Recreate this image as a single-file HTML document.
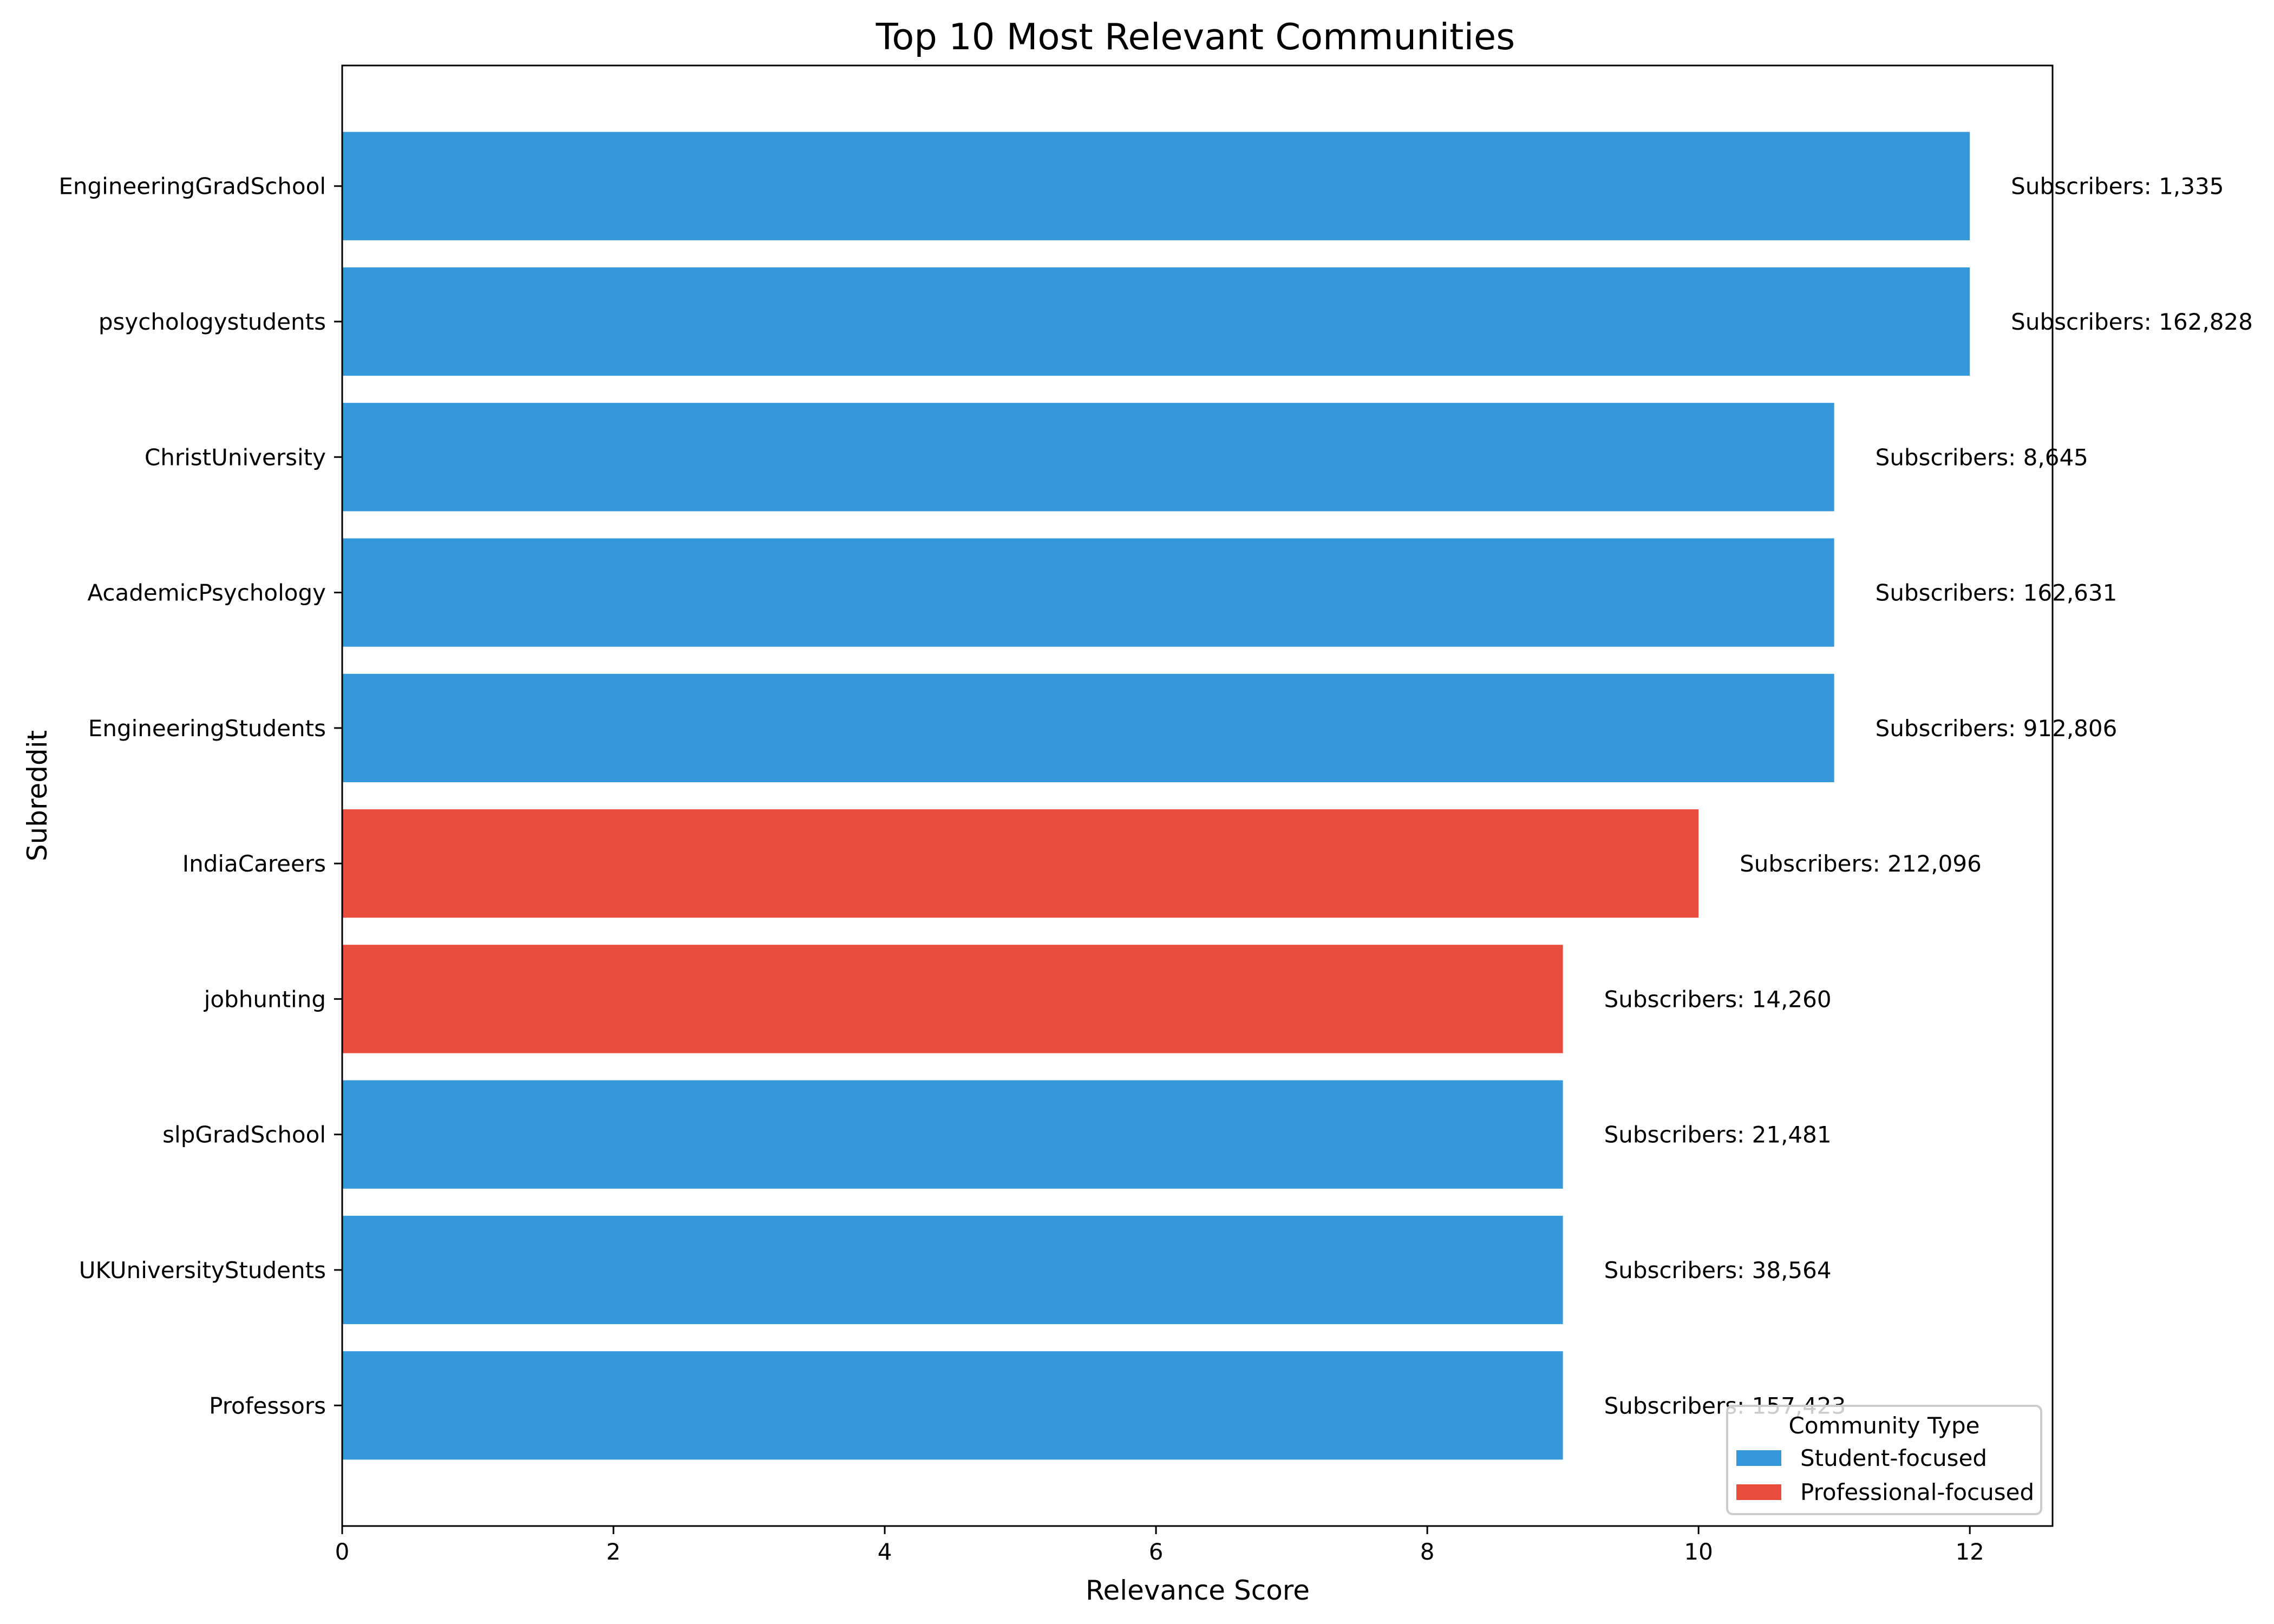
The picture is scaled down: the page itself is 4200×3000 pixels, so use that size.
<!DOCTYPE html>
<html><head><meta charset="utf-8"><style>
html,body{margin:0;padding:0;background:#fff}
svg{display:block;font-family:"DejaVu Sans","Liberation Sans",sans-serif}
</style></head><body>
<svg id="chart" width="4200" height="3000" viewBox="0 0 4200 3000" xmlns="http://www.w3.org/2000/svg">
<rect width="4200" height="3000" fill="#fff"/>
<text x="2208" y="91" font-size="67" text-anchor="middle">Top 10 Most Relevant Communities</text>
<g id="plot"></g>
<text x="2212" y="2955" font-size="50" text-anchor="middle">Relevance Score</text>
<text transform="translate(86,1470) rotate(-90)" font-size="50" text-anchor="middle">Subreddit</text>
<g>
<rect x="3190" y="2597" width="580" height="200" rx="10" fill="#fff" fill-opacity="0.8" stroke="#ccc" stroke-width="4"/>
<text x="3480" y="2648" font-size="42" text-anchor="middle">Community Type</text>
<rect x="3207" y="2679" width="83" height="29" fill="#3498db"/>
<text x="3325" y="2708" font-size="42">Student-focused</text>
<rect x="3207" y="2742" width="83" height="29" fill="#e74c3c"/>
<text x="3325" y="2771" font-size="42">Professional-focused</text>
</g>
</svg>
<script>
const categories = ["EngineeringGradSchool","psychologystudents","ChristUniversity","AcademicPsychology","EngineeringStudents","IndiaCareers","jobhunting","slpGradSchool","UKUniversityStudents","Professors"];
const scores = [12,12,11,11,11,10,9,9,9,9];
const types = ["student","student","student","student","student","professional","professional","student","student","student"];
const subscribers = ["1,335","162,828","8,645","162,631","912,806","212,096","14,260","21,481","38,564","157,423"];
const xTicks = [0,2,4,6,8,10,12];

const L=632,R=3791,T=121,B=2819;
const xMax=12.61;
const x=v=>L+(v/xMax)*(R-L);
const yMin=-0.89,yMax=9+0.89;
const y=i=>T+((i-yMin)/(yMax-yMin))*(B-T);
const ns="http://www.w3.org/2000/svg";
const g=document.getElementById('plot');
function mk(tag,attrs){const e=document.createElementNS(ns,tag);for(const k in attrs)e.setAttribute(k,attrs[k]);return e;}
const colors={student:"#3498db",professional:"#e74c3c"};
const bh=0.8*(B-T)/(yMax-yMin);
categories.forEach((c,i)=>{
  const cy=y(i);
  const r=mk('rect',{x:x(0),y:cy-bh/2,width:x(scores[i])-x(0),height:bh,fill:colors[types[i]]});
  
  
  g.appendChild(r);
  const t=mk('text',{x:x(scores[i])+76,y:cy+15,'font-size':42});
  t.textContent='Subscribers: '+subscribers[i];
  
  
  g.appendChild(t);
  const tk=mk('line',{x1:L-15,x2:L,y1:cy,y2:cy,stroke:'#000','stroke-width':3});
  
  
  g.appendChild(tk);
  const tl=mk('text',{x:L-30,y:cy+15,'font-size':42,'text-anchor':'end'});
  tl.textContent=c;
  
  
  g.appendChild(tl);
});
xTicks.forEach(v=>{
  const tk=mk('line',{x1:x(v),x2:x(v),y1:B,y2:B+15,stroke:'#000','stroke-width':3});
  
  
  g.appendChild(tk);
  const tl=mk('text',{x:x(v),y:B+62,'font-size':42,'text-anchor':'middle'});
  tl.textContent=v;
  
  
  g.appendChild(tl);
});
const frame=mk('rect',{x:L,y:T,width:R-L,height:B-T,fill:'none',stroke:'#000','stroke-width':3});


g.appendChild(frame);
</script>
</body></html>
